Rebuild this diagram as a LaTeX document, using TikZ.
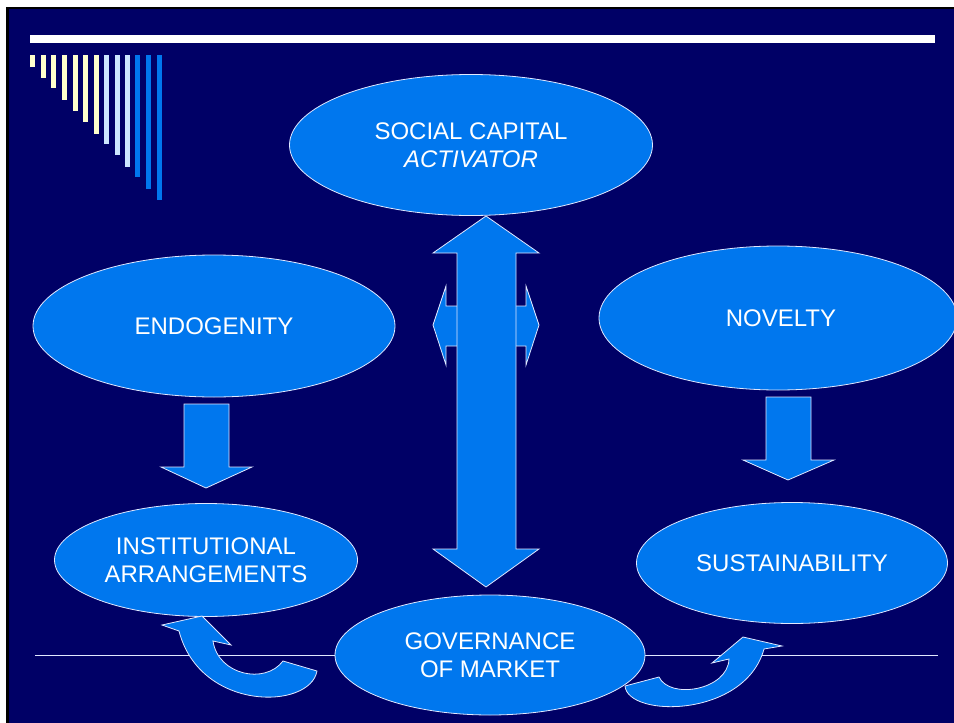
\documentclass[tikz,border=0pt]{standalone}
\usepackage{fontspec}
\setmainfont{Liberation Sans}
\usetikzlibrary{shapes.geometric}
\definecolor{navy}{RGB}{0,0,102}
\definecolor{boxblue}{RGB}{0,119,238}
\definecolor{edgecol}{RGB}{225,232,255}
\definecolor{pale}{RGB}{255,255,204}
\definecolor{paleblue}{RGB}{204,230,255}
\tikzset{
  oval/.style={ellipse, fill=boxblue, draw=edgecol, line width=0.8pt, inner sep=0pt,
    text=white, align=center, font=\fontsize{24}{27.5}\selectfont},
  blockarrow/.style={fill=boxblue, draw=edgecol, line width=0.8pt, line join=miter},
  rule/.style={draw=edgecol, line width=1pt},
}
\begin{document}
\begin{tikzpicture}[x=1pt,y=-1pt]
\useasboundingbox (0,0) rectangle (954,723);
\fill[white] (0,0) rectangle (954,723);
\fill[black] (6,7) rectangle (954,723);
\fill[navy] (9,9) rectangle (954,723);
% top white bar
\fill[white] (30,35) rectangle (935,43);
% graded vertical bars
\foreach \x/\b/\c in {30/67/pale,41/78/pale,51/88/pale,62/100/pale,73/111/pale,83/122/pale,94/134/pale,
  104/144/paleblue,115/155/paleblue,125/167/paleblue,135/177/boxblue,146/189/boxblue,157/200/boxblue}
  \fill[\c] (\x,55) rectangle ({\x+5},\b);
% horizontal rule
\coordinate (lineL) at (35,655);
\coordinate (lineR) at (938,655);
\draw[rule] (lineL) -- (lineR);
% ellipses
\node[oval, minimum width=363pt, minimum height=141pt] (social) at (471,145) {SOCIAL CAPITAL\\\textit{ACTIVATOR}};
\node[oval, minimum width=362pt, minimum height=142pt] (endo) at (214,326) {ENDOGENITY};
\node[oval, minimum width=358pt, minimum height=144pt] (novelty) at (778,318) {\hspace*{6pt}NOVELTY};
\node[oval, minimum width=303pt, minimum height=113pt] (inst) at (206,560) {INSTITUTIONAL\\ARRANGEMENTS};
\node[oval, minimum width=311pt, minimum height=121pt] (sust) at (792,563) {SUSTAINABILITY};
\node[oval, minimum width=310pt, minimum height=120pt] (gov) at (490,655) {GOVERNANCE\\OF MARKET};
% horizontal double arrow (behind)
\draw[blockarrow] (433,325) -- (446,286) -- (446,306) -- (526,306) -- (526,286) -- (539,325)
  -- (526,365) -- (526,346) -- (446,346) -- (446,365) -- cycle;
% vertical double arrow
\draw[blockarrow] (486,216) -- (539,253) -- (516,253) -- (516,549) -- (539,549) -- (486,587)
  -- (433,549) -- (457,549) -- (457,253) -- (433,253) -- cycle;
% down arrows
\draw[blockarrow] (184,404) -- (229,404) -- (229,467) -- (252,467) -- (206,488) -- (161,467) -- (184,467) -- cycle;
\draw[blockarrow] (766,397) -- (811,397) -- (811,460) -- (834,460) -- (788,480) -- (743,460) -- (766,460) -- cycle;
% curved arrow left
\draw[blockarrow] (317,671) .. controls (310,710) and (200,712) .. (179,631)
  -- (162,625) -- (202,616) -- (231,645) -- (213,641)
  .. controls (218,675) and (265,685) .. (283,661) -- cycle;
% curved arrow right
\draw[blockarrow] (625,686) .. controls (628,718) and (745,718) .. (764,649)
  -- (782,646) -- (743,637) -- (712,663) -- (729,659)
  .. controls (728,690) and (670,700) .. (659,677) -- cycle;
\end{tikzpicture}
\end{document}
